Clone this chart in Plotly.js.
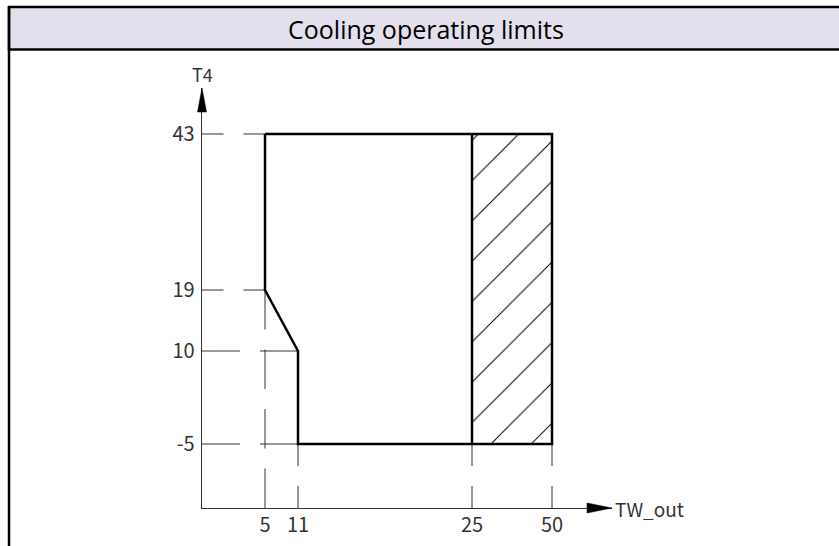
<!DOCTYPE html>
<html><head><meta charset="utf-8">
<script src="https://cdn.plot.ly/plotly-3.0.1.min.js"></script>
<style>html,body{margin:0;padding:0;background:#fff}#chart{width:839px;height:546px}</style>
</head><body><div id="chart"></div>
<script>
// ---------------- data ----------------
const chartTitle = "Cooling operating limits";
const xAxisLabel = "TW_out";
const yAxisLabel = "T4";
const xTickValues = [5, 11, 25, 50];
const xTickLabels = ["5", "11", "25", "50"];
const yTickValues = [43, 19, 10, -5];
const yTickLabels = ["43", "19", "10", "-5"];
// operating envelope outline (TW_out, T4)
const envelopeX = [5, 50, 50, 11, 11, 5, 5];
const envelopeT4 = [43, 43, -5, -5, 10, 19, 43];
// divider and hatched (restricted) zone
const dividerX = [25, 25];
const dividerT4 = [43, -5];
const hatchX = [25, 50, 50, 25, 25];
const hatchT4 = [43, 43, -5, -5, 43];
// guide lines: for each y tick, TW_out where it meets the envelope
const yGuideEndX = [5, 5, 11, 11];
// for each x tick, T4 where the guide leaves the envelope
const xGuideStartT4 = [19, -5, -5, -5];

// ---------------- schematic (non-linear) axis scales ----------------
const W = 839, H = 546;
const plotL = 202, plotR = 612, plotT = 88, plotB = 508;
const xScaleVals = [0, 5, 11, 25, 50];
const xScaleOff  = [0, 63, 96, 270, 350];
const yScaleVals = [-15, -5, 10, 19, 43];
const yScaleOff  = [0, 64, 157, 218, 374];
function interp(v, vals, offs) {
  let i = 0;
  while (i < vals.length - 2 && v > vals[i + 1]) i++;
  const t = (v - vals[i]) / (vals[i + 1] - vals[i]);
  return offs[i] + t * (offs[i + 1] - offs[i]);
}
const sx = v => interp(v, xScaleVals, xScaleOff);
const sy = v => interp(v, yScaleVals, yScaleOff);
const px = x => (x - plotL) / (plotR - plotL);
const py = y => (plotB - y) / (plotB - plotT);

function dashFor(len) {
  const gap = 20;
  const n = Math.max(2, Math.round((len + gap) / 60));
  const d = (len - (n - 1) * gap) / n;
  return d.toFixed(1) + 'px,' + gap + 'px';
}

const traces = [];
// hatched zone
traces.push({
  x: hatchX.map(sx), y: hatchT4.map(sy), mode: 'lines', fill: 'toself',
  fillcolor: 'rgba(0,0,0,0)',
  fillpattern: {shape: '/', size: 28.5, solidity: 0.035, fgcolor: '#000', bgcolor: 'rgba(255,255,255,0)'},
  line: {width: 0}, hoverinfo: 'skip', showlegend: false
});
// guide lines (dashed)
yTickValues.forEach((v, i) => {
  const len = sx(yGuideEndX[i]) - sx(0);
  traces.push({x: [sx(0), sx(yGuideEndX[i])], y: [sy(v), sy(v)], mode: 'lines',
    line: {color: '#333', width: 1, dash: dashFor(len)}, hoverinfo: 'skip', showlegend: false});
});
xTickValues.forEach((v, i) => {
  const len = sy(xGuideStartT4[i]) - 0;
  traces.push({x: [sx(v), sx(v)], y: [sy(xGuideStartT4[i]), 0], mode: 'lines',
    line: {color: '#333', width: 1, dash: dashFor(len)}, hoverinfo: 'skip', showlegend: false});
});
// envelope outline
traces.push({x: envelopeX.map(sx), y: envelopeT4.map(sy), mode: 'lines',
  line: {color: '#000', width: 2.5}, hoverinfo: 'skip', showlegend: false});
traces.push({x: dividerX.map(sx), y: dividerT4.map(sy), mode: 'lines',
  line: {color: '#000', width: 2.5}, hoverinfo: 'skip', showlegend: false});

const tickFont = {family: '"Noto Sans CJK SC", "Noto Sans", sans-serif', size: 20, color: '#333'};

const layout = {
  width: W, height: H,
  margin: {l: plotL, r: W - plotR, t: plotT, b: H - plotB, pad: 0},
  paper_bgcolor: '#fff', plot_bgcolor: 'rgba(0,0,0,0)',
  showlegend: false,
  xaxis: {range: [0, plotR - plotL], showgrid: false, zeroline: false,
    showline: true, linecolor: '#333', linewidth: 1.3,
    tickmode: 'array', tickvals: xTickValues.map(sx), ticktext: xTickLabels,
    ticks: '', ticklabelstandoff: -1, tickfont: tickFont, fixedrange: true},
  yaxis: {range: [0, plotB - plotT], showgrid: false, zeroline: false,
    showline: true, linecolor: '#333', linewidth: 1.3,
    tickmode: 'array', tickvals: yTickValues.map(sy), ticktext: yTickLabels,
    ticks: '', ticklabelstandoff: 2, tickfont: tickFont, fixedrange: true},
  shapes: [
    // header band
    {type: 'rect', xref: 'paper', yref: 'paper', x0: px(9), x1: px(880), y0: py(49.5), y1: py(7),
     fillcolor: '#E4DFEC', line: {color: '#000', width: 2.5}, layer: 'below'},
    // left border
    {type: 'line', xref: 'paper', yref: 'paper', x0: px(9), x1: px(9), y0: py(7), y1: py(560),
     line: {color: '#000', width: 2.5}},
    // y arrow
    {type: 'path', xref: 'paper', yref: 'paper',
     path: `M${px(plotL)},${py(plotT)} L${px(plotL - 4.5)},${py(plotT + 24)} L${px(plotL + 4.5)},${py(plotT + 24)} Z`,
     fillcolor: '#000', line: {color: '#000', width: 0.5}},
    // x arrow
    {type: 'path', xref: 'paper', yref: 'paper',
     path: `M${px(plotR)},${py(plotB)} L${px(plotR - 25)},${py(plotB - 5)} L${px(plotR - 25)},${py(plotB + 5)} Z`,
     fillcolor: '#000', line: {color: '#000', width: 0.5}}
  ],
  annotations: [
    {text: chartTitle, xref: 'paper', yref: 'paper', x: px(426), y: py(29), showarrow: false,
     xanchor: 'center', yanchor: 'middle', font: {family: '"Open Sans", sans-serif', size: 25, color: '#000'}},
    {text: yAxisLabel, xref: 'paper', yref: 'paper', x: px(plotL), y: py(74), showarrow: false,
     xanchor: 'center', yanchor: 'middle', font: {family: tickFont.family, size: 18, color: '#333'}},
    {text: xAxisLabel, xref: 'paper', yref: 'paper', x: px(plotR + 1), y: py(plotB), showarrow: false,
     xanchor: 'left', yanchor: 'middle', font: {family: tickFont.family, size: 19, color: '#333'}}
  ]
};

Plotly.newPlot('chart', traces, layout, {displayModeBar: false, staticPlot: true});
</script></body></html>
